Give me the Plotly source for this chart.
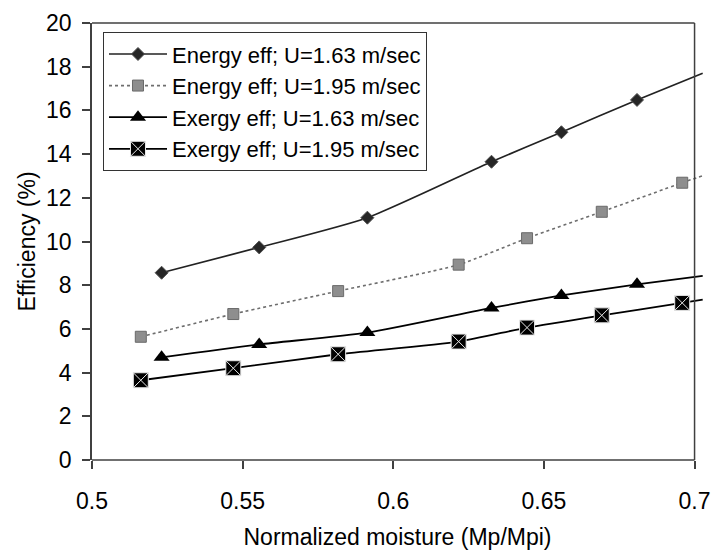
import plotly.graph_objects as go

# Normalized moisture (Mp/Mpi) at each measurement
x_u163 = [0.5231, 0.5555, 0.5914, 0.6326, 0.6558, 0.6809, 0.7027]
x_u195 = [0.5162, 0.5469, 0.5817, 0.6217, 0.6444, 0.6692, 0.6959, 0.7027]

# Efficiencies (%)
energy_u163 = [8.57, 9.73, 11.09, 13.65, 15.00, 16.48, 17.70]
energy_u195 = [5.64, 6.68, 7.73, 8.94, 10.15, 11.36, 12.69, 13.01]
exergy_u163 = [4.70, 5.29, 5.83, 6.96, 7.53, 8.04, 8.43]
exergy_u195 = [3.65, 4.20, 4.84, 5.42, 6.06, 6.62, 7.19, 7.34]

series_names = [
    "Energy eff; U=1.63 m/sec",
    "Energy eff; U=1.95 m/sec",
    "Exergy eff; U=1.63 m/sec",
    "Exergy eff; U=1.95 m/sec",
]

x_ticks = [0.5, 0.55, 0.6, 0.65, 0.7]
x_tick_text = ["0.5", "0.55", "0.6", "0.65", "0.7"]
y_ticks = [0, 2, 4, 6, 8, 10, 12, 14, 16, 18, 20]

X_MAX = 0.7
X_RANGE = [0.5, 0.7028]
FONT = "Liberation Sans, Arial, sans-serif"
AXIS = "#404040"


def hide_last(color, n):
    # the final point only carries the curve to the frame edge; no marker there
    return [color] * (n - 1) + ["rgba(0,0,0,0)"]


def series(xs, ys, name, symbol, size, fill, edge, edge_w, line_color, dash, line_w):
    n = len(xs)
    return go.Scatter(
        x=xs, y=ys, name=name, mode="lines+markers",
        line=dict(color=line_color, width=line_w, dash=dash, shape="spline", smoothing=0.6),
        marker=dict(symbol=symbol, size=size, color=hide_last(fill, n),
                    line=dict(color=hide_last(edge, n), width=edge_w)),
    )


fig = go.Figure()
fig.add_trace(series(x_u163, energy_u163, series_names[0], "diamond", 10,
                     "#262626", "#505050", 1, "#222222", "solid", 1.7))
fig.add_trace(series(x_u195, energy_u195, series_names[1], "square", 11,
                     "#8e8e8e", "#6a6a6a", 1, "#6e6e6e", "dot", 1.6))
fig.add_trace(series(x_u163, exergy_u163, series_names[2], "triangle-up", 14,
                     "#000000", "#000000", 0, "#000000", "solid", 1.8))
fig.add_trace(series(x_u195, exergy_u195, series_names[3], "square-x", 15,
                     "#000000", "#e8e8e8", 1, "#000000", "solid", 1.8))

# Frame: bottom axis, right and top edges stop at x = 0.7
frame = [
    dict(x0=0.5, x1=X_MAX, y0=0, y1=0),
    dict(x0=X_MAX, x1=X_MAX, y0=0, y1=1),
    dict(x0=0.5, x1=X_MAX, y0=1, y1=1),
]
for seg in frame:
    fig.add_shape(type="line", xref="x", yref="paper", layer="above",
                  line=dict(color=AXIS, width=1.5), **seg)

fig.update_layout(
    width=715, height=550,
    margin=dict(l=92, r=12, t=23, b=90),
    plot_bgcolor="white", paper_bgcolor="white",
    font=dict(family=FONT, size=23, color="black"),
    showlegend=True,
    legend=dict(
        x=0.018, y=0.979, xanchor="left", yanchor="top",
        bordercolor="#333333", borderwidth=1, bgcolor="white",
        font=dict(family=FONT, size=22, color="black"),
        tracegroupgap=0, itemwidth=58,
    ),
    xaxis=dict(
        range=X_RANGE, tickvals=x_ticks, ticktext=x_tick_text,
        showgrid=False, zeroline=False, showline=False, automargin=False,
        ticks="outside", ticklen=8, tickwidth=1.5, tickcolor=AXIS,
        ticklabelstandoff=12,
        tickfont=dict(family=FONT, size=23, color="black"),
        title=dict(text="Normalized moisture (Mp/Mpi)",
                   font=dict(family=FONT, size=23, color="black"), standoff=19),
    ),
    yaxis=dict(
        range=[0, 20], tickvals=y_ticks,
        showgrid=False, zeroline=False, automargin=False,
        showline=True, linecolor=AXIS, linewidth=1.5,
        ticks="outside", ticklen=8, tickwidth=1.5, tickcolor=AXIS,
        ticklabelstandoff=6,
        tickfont=dict(family=FONT, size=23, color="black"),
        title=dict(text="Efficiency (%)",
                   font=dict(family=FONT, size=23, color="black"), standoff=4),
    ),
)

fig.write_html("out.html")
